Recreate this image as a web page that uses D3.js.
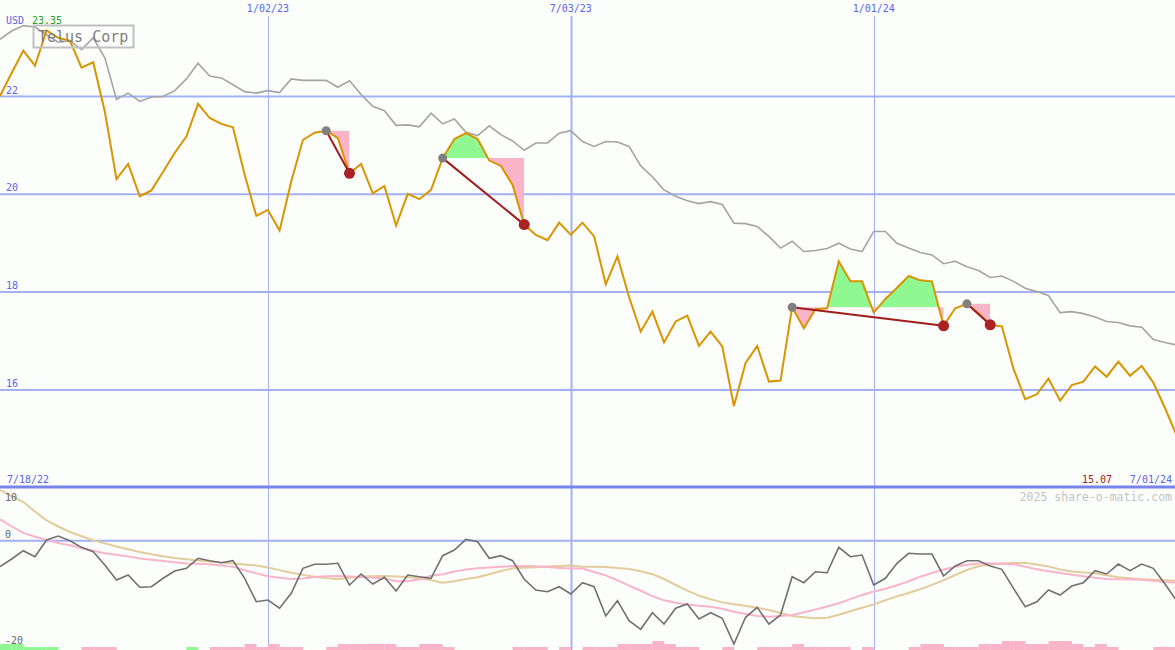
<!DOCTYPE html>
<html><head><meta charset="utf-8">
<script src="https://cdn.jsdelivr.net/npm/d3@7"></script>
<style>html,body{margin:0;padding:0;background:#fcfefc;}svg{display:block;font-family:"DejaVu Sans Mono",monospace;}</style>
</head><body><svg id="c" width="1175" height="650"></svg>
<script>
// ---- data (weekly, starting Mon 2022-07-25) ----
const startDate = new Date(2022, 6, 25);
const endDate = new Date(2024, 6, 1);
const price = [22.01,22.48,22.94,22.63,23.35,23.20,23.14,22.59,22.70,21.69,
20.31,20.62,19.96,20.08,20.46,20.85,21.18,21.85,21.56,21.44,
21.37,20.40,19.56,19.68,19.26,20.26,21.11,21.26,21.30,21.15,
20.43,20.62,20.02,20.17,19.36,20.01,19.90,20.09,20.74,21.13,
21.25,21.13,20.69,20.58,20.19,19.38,19.17,19.06,19.42,19.17,
19.42,19.14,18.16,18.73,17.90,17.19,17.60,16.97,17.40,17.52,
16.90,17.19,16.89,15.67,16.55,16.90,16.17,16.19,17.69,17.26,
17.65,17.67,18.63,18.22,18.22,17.58,17.86,18.09,18.33,18.24,
18.22,17.31,17.67,17.76,17.57,17.33,17.30,16.43,15.81,15.91,
16.23,15.78,16.10,16.17,16.48,16.27,16.58,16.29,16.49,16.15,
15.63,15.07];
const benchmark = [23.17,23.34,23.45,23.42,23.26,23.11,23.14,22.96,23.20,22.79,
21.94,22.07,21.90,21.99,22.00,22.12,22.36,22.68,22.42,22.38,
22.24,22.10,22.07,22.12,22.08,22.36,22.33,22.33,22.33,22.19,
22.32,22.04,21.80,21.71,21.41,21.42,21.38,21.66,21.44,21.54,
21.27,21.20,21.40,21.22,21.09,20.90,21.05,21.05,21.25,21.30,
21.08,20.98,21.08,21.07,20.98,20.58,20.36,20.09,19.96,19.87,
19.81,19.85,19.79,19.41,19.40,19.34,19.14,18.90,19.04,18.83,
18.85,18.89,19.00,18.88,18.83,19.24,19.24,19.00,18.90,18.81,
18.76,18.58,18.63,18.52,18.44,18.30,18.33,18.22,18.08,18.01,
17.93,17.58,17.60,17.56,17.49,17.40,17.38,17.31,17.28,17.03,
16.97,16.92];
const oscillator = [-4.9,-3.45,-1.89,-3.02,0.13,0.89,0,-1.25,-2.08,-4.58,
-7.42,-6.47,-8.79,-8.68,-7.09,-5.72,-5.21,-3.32,-3.77,-4.15,
-3.77,-7.09,-11.51,-11.19,-12.75,-9.92,-5.21,-4.45,-4.45,-4.26,
-8.36,-6.28,-8.17,-6.91,-9.49,-6.47,-6.79,-7.09,-2.83,-1.75,
0.26,-0.19,-3.32,-2.83,-3.77,-7.28,-9.30,-9.62,-8.68,-10.06,
-7.92,-8.68,-14.21,-11.32,-15.09,-16.72,-13.58,-15.72,-12.75,-11.94,
-14.77,-13.58,-14.64,-19.49,-14.45,-12.57,-15.72,-14.02,-6.79,-7.92,
-5.85,-6.04,-1.25,-3.02,-2.70,-8.36,-7.09,-4.26,-2.38,-2.51,
-2.51,-6.66,-4.77,-3.77,-3.77,-4.77,-5.40,-8.98,-12.45,-11.51,
-9.30,-10.25,-8.55,-7.92,-5.66,-6.28,-4.40,-5.66,-4.40,-5.21,
-8.17,-11.32];
const slowAvg = [9.57,8.43,7.30,5.51,3.85,2.68,1.64,0.83,0.06,-0.51,
-1.08,-1.62,-2.13,-2.57,-2.94,-3.25,-3.51,-3.74,-3.94,-4.13,
-4.32,-4.47,-4.70,-5.04,-5.55,-6.06,-6.45,-6.81,-7.06,-7.25,
-7.00,-6.77,-6.72,-6.68,-6.75,-6.85,-7.08,-7.47,-7.91,-7.66,
-7.23,-6.91,-6.34,-5.72,-5.21,-5.09,-5.02,-4.89,-4.77,-4.70,
-4.91,-4.91,-4.96,-5.15,-5.34,-5.77,-6.32,-7.23,-8.36,-9.42,
-10.36,-11.04,-11.64,-11.98,-12.28,-12.66,-13.06,-13.64,-14.21,-14.43,
-14.64,-14.55,-13.96,-13.32,-12.66,-12.02,-11.23,-10.51,-9.87,-9.13,
-8.34,-7.43,-6.47,-5.53,-4.81,-4.47,-4.30,-4.21,-4.15,-4.47,
-4.85,-5.42,-5.83,-6.00,-6.15,-6.53,-6.91,-7.09,-7.28,-7.38,
-7.47,-7.55];
const fastAvg = [4.04,2.70,1.47,0.75,0.15,-0.43,-0.87,-1.43,-1.91,-2.36,
-2.64,-2.96,-3.36,-3.58,-3.81,-4.06,-4.28,-4.34,-4.45,-4.66,
-4.94,-5.58,-6.17,-6.72,-6.98,-7.23,-7.13,-6.85,-6.72,-6.68,
-6.74,-6.83,-6.98,-7.11,-7.64,-7.64,-7.28,-6.62,-6.34,-5.81,
-5.43,-5.19,-5.06,-4.91,-4.77,-4.77,-4.81,-4.96,-5.13,-5.26,
-5.26,-5.89,-6.55,-7.49,-8.47,-9.45,-10.47,-11.25,-11.70,-12.02,
-12.28,-12.45,-12.83,-13.42,-13.83,-14.19,-14.34,-14.23,-14.02,-13.51,
-12.98,-12.40,-11.81,-11.02,-10.23,-9.60,-9.08,-8.40,-7.64,-6.79,
-6.08,-5.43,-4.92,-4.55,-4.30,-4.26,-4.34,-4.45,-4.91,-5.38,
-5.77,-6.11,-6.43,-6.70,-7.00,-7.21,-7.26,-7.32,-7.38,-7.57,
-7.77,-7.92];
// signed histogram levels: + pink, - green
const histo = [-2,-2,-1,-1,-1,0,0,1,1,1,
0,0,0,0,0,0,-1,0,1,1,
1,2,1,2,1,1,0,0,1,2,
2,2,2,2,1,1,2,2,1,0,
0,0,0,0,1,1,1,0,1,0,
1,1,1,2,2,2,3,2,1,1,
0,0,1,0,0,1,1,1,2,1,
1,1,1,0,1,0,0,0,1,2,
2,1,1,1,2,2,3,3,2,2,
3,3,2,1,2,1,0,0,0,1,
1,1];
// patterns: [peak index, trough index]
const patterns = [[28,30],[38,45],[68,81],[83,85]];
const priceTicks = [16,18,20,22];
const dateTicks = [new Date(2023,0,2), new Date(2023,6,3), new Date(2024,0,1)];
const dateTickLabels = ["1/02/23","7/03/23","1/01/24"];
const oscTicks = [10,0,-20];
const titleText = "Telus Corp";
const currency = "USD";
const maxLabel = "23.35";
const lastLabel = "15.07";
const startLabel = "7/18/22";
const endLabel = "7/01/24";
const credit = "2025 share-o-matic.com";

// ---- scales ----
const dates = price.map((_, i) => d3.timeDay.offset(startDate, 7 * i));
const W = 1175, H = 650;
const x = d3.scaleTime().domain([startDate, endDate]).range([0, 1176.6]);
const y = d3.scaleLinear().domain([14, 24]).range([487.7, -1.3]);
const yo = d3.scaleLinear().domain([-20, 10]).range([646.7, 487.7]);
const yh = d3.scaleLinear().domain([0, 3]).range([650, 641]);

const svg = d3.select("#c");
svg.append("rect").attr("width", W).attr("height", H).attr("fill", "#fcfefc");
const defs = svg.append("defs");
defs.append("clipPath").attr("id", "mainClip").append("rect").attr("x", 0).attr("y", 0).attr("width", W).attr("height", 486);
defs.append("clipPath").attr("id", "oscClip").append("rect").attr("x", 0).attr("y", 489).attr("width", W).attr("height", 161);

const gridC = "#a3b1f2", labC = "#5a64ee";

// vertical grid
dateTicks.forEach((d, i) => {
  svg.append("line").attr("x1", Math.round(x(d)) + 0.5).attr("x2", Math.round(x(d)) + 0.5)
    .attr("y1", 16).attr("y2", H).attr("stroke", gridC).attr("stroke-width", i === 1 ? 2 : 1);
  svg.append("text").attr("x", x(d)).attr("y", 12).attr("text-anchor", "middle")
    .attr("font-size", 10).attr("fill", labC).text(dateTickLabels[i]);
});
// horizontal grid main
priceTicks.forEach(v => {
  svg.append("line").attr("x1", 0).attr("x2", W).attr("y1", y(v)).attr("y2", y(v))
    .attr("stroke", gridC).attr("stroke-width", 2);
  svg.append("text").attr("x", 6).attr("y", y(v) - 3).attr("font-size", 10).attr("fill", labC).text(v);
});
// osc zero line
svg.append("line").attr("x1", 0).attr("x2", W).attr("y1", yo(0)).attr("y2", yo(0))
  .attr("stroke", gridC).attr("stroke-width", 2);
// separator
svg.append("line").attr("x1", 0).attr("x2", W).attr("y1", 487).attr("y2", 487)
  .attr("stroke", "#7684ec").attr("stroke-width", 3);

// ---- main panel ----
const gm = svg.append("g").attr("clip-path", "url(#mainClip)");
const line = d3.line().x((d, i) => x(dates[i])).y(d => y(d));

patterns.forEach(([a, b], pi) => {
  const lvl = price[a];
  const idx = d3.range(a, b + 1);
  const area = d3.area().x(i => x(dates[i])).y0(y(lvl)).y1(i => y(price[i]));
  defs.append("clipPath").attr("id", "ab" + pi).append("rect")
    .attr("x", x(dates[a])).attr("width", x(dates[b]) - x(dates[a])).attr("y", 0).attr("height", y(lvl));
  defs.append("clipPath").attr("id", "be" + pi).append("rect")
    .attr("x", x(dates[a])).attr("width", x(dates[b]) - x(dates[a])).attr("y", y(lvl)).attr("height", 486 - y(lvl));
  gm.append("path").datum(idx).attr("d", area).attr("fill", "#90f890").attr("clip-path", "url(#ab" + pi + ")");
  gm.append("path").datum(idx).attr("d", area).attr("fill", "#f9b4c9").attr("clip-path", "url(#be" + pi + ")");
});

gm.append("path").datum(benchmark).attr("d", line).attr("fill", "none").attr("stroke", "#a4a4a4").attr("stroke-width", 1.6);
gm.append("path").datum(price).attr("d", line).attr("fill", "none").attr("stroke", "#d89500").attr("stroke-width", 2);

patterns.forEach(([a, b]) => {
  gm.append("line").attr("x1", x(dates[a])).attr("y1", y(price[a])).attr("x2", x(dates[b])).attr("y2", y(price[b]))
    .attr("stroke", "#a11c1c").attr("stroke-width", 2);
  gm.append("circle").attr("cx", x(dates[a])).attr("cy", y(price[a])).attr("r", 4.5).attr("fill", "#808080");
  gm.append("circle").attr("cx", x(dates[b])).attr("cy", y(price[b])).attr("r", 5.5).attr("fill", "#aa2222");
});

// title box
svg.append("rect").attr("x", 33.5).attr("y", 25.5).attr("width", 100).attr("height", 22)
  .attr("fill", "none").attr("stroke", "#c0c0c0").attr("stroke-width", 2);
svg.append("text").attr("x", 38).attr("y", 42).attr("font-size", 15).attr("fill", "#808080").text(titleText);
svg.append("text").attr("x", 6).attr("y", 24).attr("font-size", 10).attr("fill", labC).text(currency);
svg.append("text").attr("x", 32).attr("y", 24).attr("font-size", 10).attr("fill", "#22a022").text(maxLabel);

// bottom labels
svg.append("text").attr("x", 7).attr("y", 483).attr("font-size", 10).attr("fill", labC).text(startLabel);
svg.append("text").attr("x", 1172).attr("y", 483).attr("text-anchor", "end").attr("font-size", 10).attr("fill", labC).text(endLabel);
svg.append("text").attr("x", 1112).attr("y", 483).attr("text-anchor", "end").attr("font-size", 10).attr("fill", "#a02020").text(lastLabel);
svg.append("text").attr("x", 1172).attr("y", 501).attr("text-anchor", "end").attr("font-size", 11.5).attr("fill", "#c4c4c4").text(credit);

// ---- oscillator panel ----
const go = svg.append("g").attr("clip-path", "url(#oscClip)");
const oline = d3.line().x((d, i) => x(dates[i])).y(d => yo(d));
const wk = x(dates[1]) - x(dates[0]);
go.selectAll("rect.h").data(histo).join("rect").attr("class", "h")
  .attr("x", (d, i) => x(dates[i])).attr("width", wk + 0.2)
  .attr("y", d => yh(Math.abs(d))).attr("height", d => 650 - yh(Math.abs(d)))
  .attr("fill", d => d < 0 ? "#90f890" : "#f9b4c9");
go.append("path").datum(slowAvg).attr("d", oline).attr("fill", "none").attr("stroke", "#e2cc9c").attr("stroke-width", 2);
go.append("path").datum(fastAvg).attr("d", oline).attr("fill", "none").attr("stroke", "#f9b4c9").attr("stroke-width", 2);
go.append("path").datum(oscillator).attr("d", oline).attr("fill", "none").attr("stroke", "#707070").attr("stroke-width", 1.6);

oscTicks.forEach(v => {
  const yy = v === 10 ? yo(v) + 13 : yo(v) - 3;
  svg.append("text").attr("x", 5).attr("y", yy).attr("font-size", 10).attr("fill", "#666").text(v);
});
</script></body></html>
